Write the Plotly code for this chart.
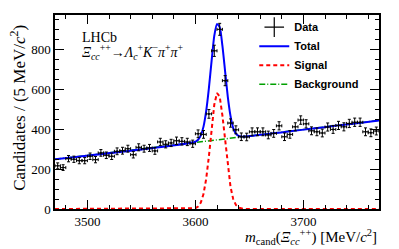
import numpy as np
import plotly.graph_objects as go

# ---- data ----
bin_lo = 3470.0
bin_width = 5.0
counts = [217, 208, 253, 250, 243, 243, 265, 248, 282, 270,
          265, 290, 293, 303, 273, 310, 303, 307, 292, 337,
          325, 332, 343, 340, 337, 328, 378, 375, 478, 795,
          903, 645, 432, 398, 363, 362, 388, 388, 388, 372,
          380, 418, 363, 375, 413, 447, 428, 393, 388, 382,
          412, 400, 420, 413, 430, 436, 436, 388, 383, 392]

curve_x = [3470, 3600, 3602.5, 3605, 3607.5, 3610, 3612.5, 3615, 3617.5, 3620,
           3622.5, 3625, 3627.5, 3630, 3632.5, 3635, 3637.5, 3640, 3642.5, 3645, 3770]
signal_y = [0, 4, 12, 32, 75, 152, 265, 400, 525, 583,
            565, 470, 340, 210, 112, 50, 20, 7, 2, 0, 0]
total_y = [250, 338, 348, 370, 414, 493, 608, 744, 871, 930,
           914, 821, 692, 564, 468, 407, 379, 367, 364, 364, 445]
bkg_x = [3470, 3770]
bkg_y = [250, 445]

x_ticks = [3500, 3600, 3700]
y_ticks = [0, 200, 400, 600, 800]

centers = bin_lo + bin_width * (np.arange(len(counts)) + 0.5)
errs = np.sqrt(np.array(counts, dtype=float))

SERIF = "Liberation Serif, Times New Roman, serif"
SANS = "Liberation Sans, Arial, sans-serif"

fig = go.Figure()

fig.add_trace(go.Scatter(x=bkg_x, y=bkg_y, mode="lines", name="Background",
                         line=dict(color="#00a000", width=1.5, dash="6px,2px,1px,2px"),
                         legendrank=4))
fig.add_trace(go.Scatter(x=curve_x, y=signal_y, mode="lines", name="Signal",
                         line=dict(color="#ff0000", width=2, dash="4px,3px"),
                         legendrank=3))
fig.add_trace(go.Scatter(x=curve_x, y=total_y, mode="lines", name="Total",
                         line=dict(color="#0000ff", width=2, shape="spline", smoothing=0.6),
                         legendrank=2))
fig.add_trace(go.Scatter(x=centers, y=counts, mode="markers", showlegend=False,
                         marker=dict(color="black", size=2),
                         error_y=dict(type="data", array=errs, color="black", thickness=1, width=1.5),
                         error_x=dict(type="constant", value=bin_width / 2, color="black", thickness=1, width=1.5)))
fig.add_trace(go.Scatter(x=[None], y=[None], mode="markers", name="Data",
                         marker=dict(symbol="cross-thin", size=14, line=dict(color="black", width=1.2)),
                         legendrank=1))

# page body has an 8px margin: figure is sized so the plot lands where the reference has it
fig.update_layout(
    width=391, height=241,
    margin=dict(l=47, r=20, t=6, b=40),
    paper_bgcolor="white", plot_bgcolor="white",
    font=dict(family=SERIF, size=13, color="black"),
    showlegend=True,
    legend=dict(x=0.615, y=1.007, xanchor="left", yanchor="top",
                bgcolor="rgba(0,0,0,0)", borderwidth=0,
                font=dict(family=SANS, size=11, color="black", weight="bold"),
                itemwidth=30, tracegroupgap=0),
)

fig.update_xaxes(range=[3470, 3770], tickvals=x_ticks, ticks="inside", ticklen=9,
                 tickwidth=1, tickcolor="black", showline=True, linecolor="black",
                 linewidth=1.5, mirror="allticks", showgrid=False, zeroline=False,
                 tickfont=dict(family=SERIF, size=13),
                 minor=dict(dtick=20, tick0=3500, ticks="inside", ticklen=4,
                            tickcolor="black", tickwidth=1, showgrid=False))
fig.update_yaxes(range=[0, 975], tickvals=y_ticks, ticks="inside", ticklen=9,
                 tickwidth=1, tickcolor="black", showline=True, linecolor="black",
                 linewidth=1.5, mirror="allticks", showgrid=False, zeroline=False,
                 tickfont=dict(family=SERIF, size=13),
                 minor=dict(dtick=50, tick0=0, ticks="inside", ticklen=4,
                            tickcolor="black", tickwidth=1, showgrid=False))

fig.add_annotation(x=3493, y=862, xref="x", yref="y", text="LHCb", showarrow=False,
                   xanchor="left", yanchor="middle", font=dict(family=SERIF, size=14))
fig.add_annotation(x=3493, y=790, xref="x", yref="y",
                   text="<i>Ξ</i><sub><i>cc</i></sub><sup>++</sup>→<i>Λ</i><sub><i>c</i></sub><sup>+</sup><i>K</i><sup>−</sup><i>π</i><sup>+</sup><i>π</i><sup>+</sup>",
                   showarrow=False, xanchor="left", yanchor="middle",
                   font=dict(family=SERIF, size=14))
fig.add_annotation(x=1.0, y=-0.085, xref="paper", yref="paper",
                   text="<i>m</i><sub>cand</sub>(<i>Ξ</i><sub><i>cc</i></sub><sup>++</sup>) [MeV/<i>c</i><sup>2</sup>]",
                   showarrow=False, xanchor="right", yanchor="top",
                   font=dict(family=SERIF, size=15))
fig.add_annotation(x=-0.115, y=0.52, xref="paper", yref="paper",
                   text="Candidates / (5 MeV/<i>c</i><sup>2</sup>)", textangle=-90,
                   showarrow=False, xanchor="center", yanchor="middle",
                   font=dict(family=SERIF, size=17))

fig.write_html("out.html")
